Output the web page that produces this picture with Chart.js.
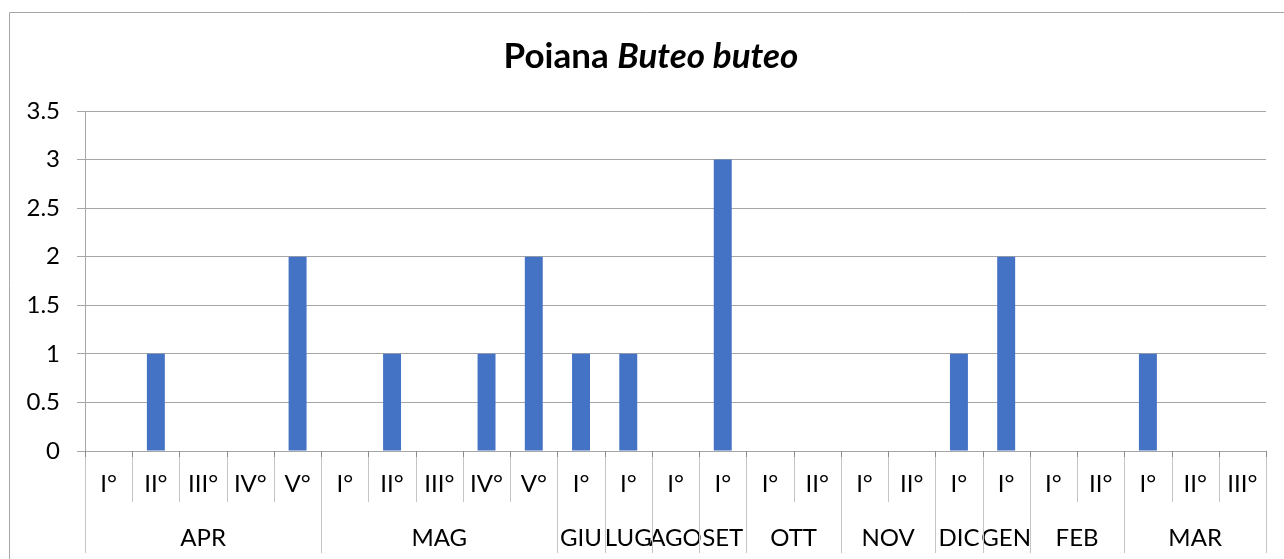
<!DOCTYPE html>
<html>
<head>
<meta charset="utf-8">
<script src="https://cdn.jsdelivr.net/npm/chart.js@4"></script>
<style>
  html, body { margin: 0; padding: 0; background: #fff; }
  #wrap { width: 1284px; height: 559px; position: relative; }
</style>
</head>
<body>
<div id="wrap"><canvas id="chart"></canvas></div>
<script>
// sub-period label for every bar, in order
const periods = ['I°', 'II°', 'III°', 'IV°', 'V°',
  'I°', 'II°', 'III°', 'IV°', 'V°',
  'I°', 'I°', 'I°', 'I°',
  'I°', 'II°', 'I°', 'II°',
  'I°', 'I°', 'I°', 'II°',
  'I°', 'II°', 'III°'];
const months = ['APR', 'MAG', 'GIU', 'LUG', 'AGO', 'SET', 'OTT', 'NOV', 'DIC', 'GEN', 'FEB', 'MAR'];
const monthSpans = [5, 5, 1, 1, 1, 1, 2, 2, 1, 1, 2, 3];
const counts = [0, 1, 0, 0, 2,
  0, 1, 0, 1, 2,
  1, 1, 0, 3,
  0, 0, 0, 0,
  1, 2, 0, 0,
  1, 0, 0];

const FONT = 'Lato, "Open Sans", sans-serif';
const GRID = '#a6a6a6';

// outer frame + mixed-style title
const frame = {
  id: 'frame',
  beforeDraw(chart) {
    const c = chart.ctx;
    c.save();
    c.fillStyle = '#fff';
    c.fillRect(0, 0, chart.width, chart.height);
    c.strokeStyle = GRID;
    c.lineWidth = 1;
    c.beginPath();
    c.moveTo(9.5, chart.height);
    c.lineTo(9.5, 12.5);
    c.lineTo(chart.width, 12.5);
    c.stroke();

    const a = 'Poiana ', b = 'Buteo buteo';
    c.fillStyle = '#000';
    c.textBaseline = 'alphabetic';
    c.font = 'bold 35px ' + FONT;
    const wa = c.measureText(a).width;
    c.font = 'italic bold 35px ' + FONT;
    const wb = c.measureText(b).width;
    const x0 = 651 - (wa + wb) / 2;
    c.font = 'bold 35px ' + FONT;
    c.fillText(a, x0, 68);
    c.font = 'italic bold 35px ' + FONT;
    c.fillText(b, x0 + wa, 68);
    c.restore();
  }
};

// two-row category table under the plot
const groupAxis = {
  id: 'groupAxis',
  afterDraw(chart) {
    const c = chart.ctx;
    const xs = chart.scales.x;
    const area = chart.chartArea;
    const w = xs.getPixelForValue(1) - xs.getPixelForValue(0);
    const y0 = area.bottom, y1 = y0 + 51, y2 = y0 + 102;
    c.save();
    c.lineWidth = 1;
    c.strokeStyle = '#c4c4c4';
    c.fillStyle = '#000';
    c.font = '24px ' + FONT;
    c.textAlign = 'center';
    c.textBaseline = 'alphabetic';

    const edges = new Set();
    let idx = 0;
    months.forEach((m, g) => {
      edges.add(idx);
      const start = idx, end = idx + monthSpans[g];
      const left = xs.getPixelForValue(start) - w / 2;
      const right = xs.getPixelForValue(end - 1) + w / 2;
      c.fillText(m, (left + right) / 2, y0 + 95);
      idx = end;
    });
    edges.add(idx);

    periods.forEach((p, i) => {
      c.fillText(p, xs.getPixelForValue(i), y0 + 41);
    });

    for (let i = 0; i <= periods.length; i++) {
      const x = Math.round(xs.getPixelForValue(i) - w / 2) + 0.5;
      c.beginPath();
      c.moveTo(x, y0);
      c.lineTo(x, edges.has(i) ? y2 : y1);
      c.stroke();
    }
    c.strokeStyle = '#8c8c8c';
    for (let i = 0; i <= periods.length; i++) {
      const x = Math.round(xs.getPixelForValue(i) - w / 2) + 0.5;
      c.beginPath();
      c.moveTo(x, y0);
      c.lineTo(x, y0 + 6);
      c.stroke();
    }
    c.restore();
  }
};

new Chart(document.getElementById('chart').getContext('2d'), {
  type: 'bar',
  data: {
    labels: periods,
    datasets: [{
      data: counts,
      backgroundColor: '#4472C4',
      borderWidth: 0,
      categoryPercentage: 1,
      barPercentage: 0.38,
    }],
  },
  options: {
    responsive: true,
    maintainAspectRatio: false,
    animation: false,
    layout: { padding: { left: 0, top: 111, right: 18, bottom: 108 } },
    plugins: {
      legend: { display: false },
      tooltip: { enabled: false },
      title: { display: false },
    },
    scales: {
      x: { display: false, offset: true },
      y: {
        min: 0,
        max: 3.5,
        afterFit(scale) { scale.width = 85; },
        ticks: {
          stepSize: 0.5,
          color: '#000',
          padding: 17,
          font: { family: FONT, size: 24 },
          callback: (v) => String(v),
        },
        grid: { color: GRID, tickLength: 8 },
        border: { color: GRID },
      },
    },
  },
  plugins: [frame, groupAxis],
});
</script>
</body>
</html>
